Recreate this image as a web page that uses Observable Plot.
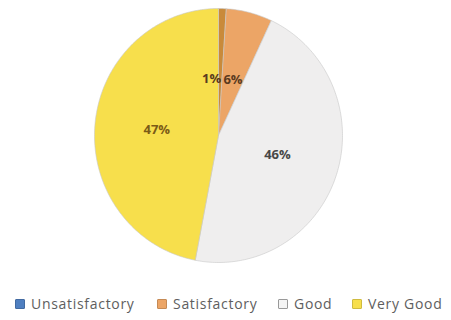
<!DOCTYPE html>
<html>
<head>
<meta charset="utf-8">
<script src="https://cdn.jsdelivr.net/npm/d3@7"></script>
<script src="https://cdn.jsdelivr.net/npm/@observablehq/plot@0.6"></script>
<style>
  html, body { margin: 0; padding: 0; background: #fff; }
  #wrap { position: relative; width: 451px; height: 320px; overflow: hidden; }
  #legend { position: absolute; left: 0; top: 294px; width: 451px; height: 24px;
    font-family: "Open Sans", sans-serif; font-size: 14px; letter-spacing: 0.7px; color: #5e5e5e; }
  .item { position: absolute; top: 0; white-space: nowrap; line-height: 20px; }
  .sw { display: inline-block; width: 8px; height: 8px; margin-right: 6px; vertical-align: 0px; border-radius: 1px; }
</style>
</head>
<body>
<div id="wrap">
  <div id="chart"></div>
  <div id="legend"></div>
</div>
<script>
const categories = ["Unsatisfactory", "Satisfactory", "Good", "Very Good"];
const values = [1, 6, 46, 47];
const labels = ["1%", "6%", "46%", "47%"];
const sliceColors = ["#c98a3a", "#eca566", "#efeeee", "#f7df4c"];
const legendColors = ["#4f7fc0", "#eca566", "#f4f4f4", "#f7df4c"];
const labelColors = ["#5a3a1f", "#5a3a1f", "#474747", "#7b5b17"];
const legendX = [15, 157, 278, 352];

const total = d3.sum(values);
const pts = [];
const labs = [];
let acc = 0;
categories.forEach((c, i) => {
  const a0 = acc / total * 2 * Math.PI;
  acc += values[i];
  const a1 = acc / total * 2 * Math.PI;
  pts.push({cat: c, x: 0, y: 0});
  const n = Math.max(2, Math.ceil((a1 - a0) / (Math.PI / 180)));
  for (let k = 0; k <= n; k++) {
    const a = a0 + (a1 - a0) * k / n;
    pts.push({cat: c, x: Math.sin(a), y: Math.cos(a)});
  }
  pts.push({cat: c, x: 0, y: 0});
  const am = (a0 + a1) / 2;
  const r = values[i] < 10 ? 0.45 : 0.5;
  const anchor = values[i] < 3 ? "end" : (values[i] < 10 ? "start" : "middle");
  labs.push({cat: c, label: labels[i], x: r * Math.sin(am), y: r * Math.cos(am), color: labelColors[i], anchor});
});

const cx = 218, cy = 135, rx = 124, ry = 127;
const W = 451, H = 272;
const chart = Plot.plot({
  width: W, height: H,
  marginLeft: cx - rx, marginRight: W - (cx + rx),
  marginTop: cy - ry, marginBottom: H - (cy + ry),
  x: {domain: [-1, 1], axis: null},
  y: {domain: [-1, 1], axis: null},
  color: {domain: categories, range: sliceColors},
  style: {background: "transparent"},
  marks: [
    Plot.line(pts, {x: "x", y: "y", z: "cat", fill: "cat", stroke: "#c8c8c8", strokeWidth: 0.6, curve: "linear"}),
    Plot.text(labs.filter(d => d.anchor === "middle"), {x: "x", y: "y", text: "label", fill: "color", fontSize: 13, fontWeight: "bold",
      fontFamily: "Open Sans, sans-serif"}),
    Plot.text(labs.filter(d => d.anchor === "end"), {x: "x", y: "y", text: "label", fill: "color", fontSize: 13, fontWeight: "bold",
      fontFamily: "Open Sans, sans-serif", textAnchor: "end", dx: 1}),
    Plot.text(labs.filter(d => d.anchor === "start"), {x: "x", y: "y", text: "label", fill: "color", fontSize: 13, fontWeight: "bold",
      fontFamily: "Open Sans, sans-serif", textAnchor: "start", dx: -9})
  ]
});
document.getElementById("chart").appendChild(chart);

const leg = document.getElementById("legend");
categories.forEach((c, i) => {
  const it = document.createElement("div");
  it.className = "item";
  it.style.left = legendX[i] + "px";
  const sw = document.createElement("span");
  sw.className = "sw";
  sw.style.background = legendColors[i];
  sw.style.border = i === 2 ? "1px solid #999" : "1px solid " + d3.color(legendColors[i]).darker(0.5);
  it.appendChild(sw);
  it.appendChild(document.createTextNode(c));
  leg.appendChild(it);
});
</script>
</body>
</html>
